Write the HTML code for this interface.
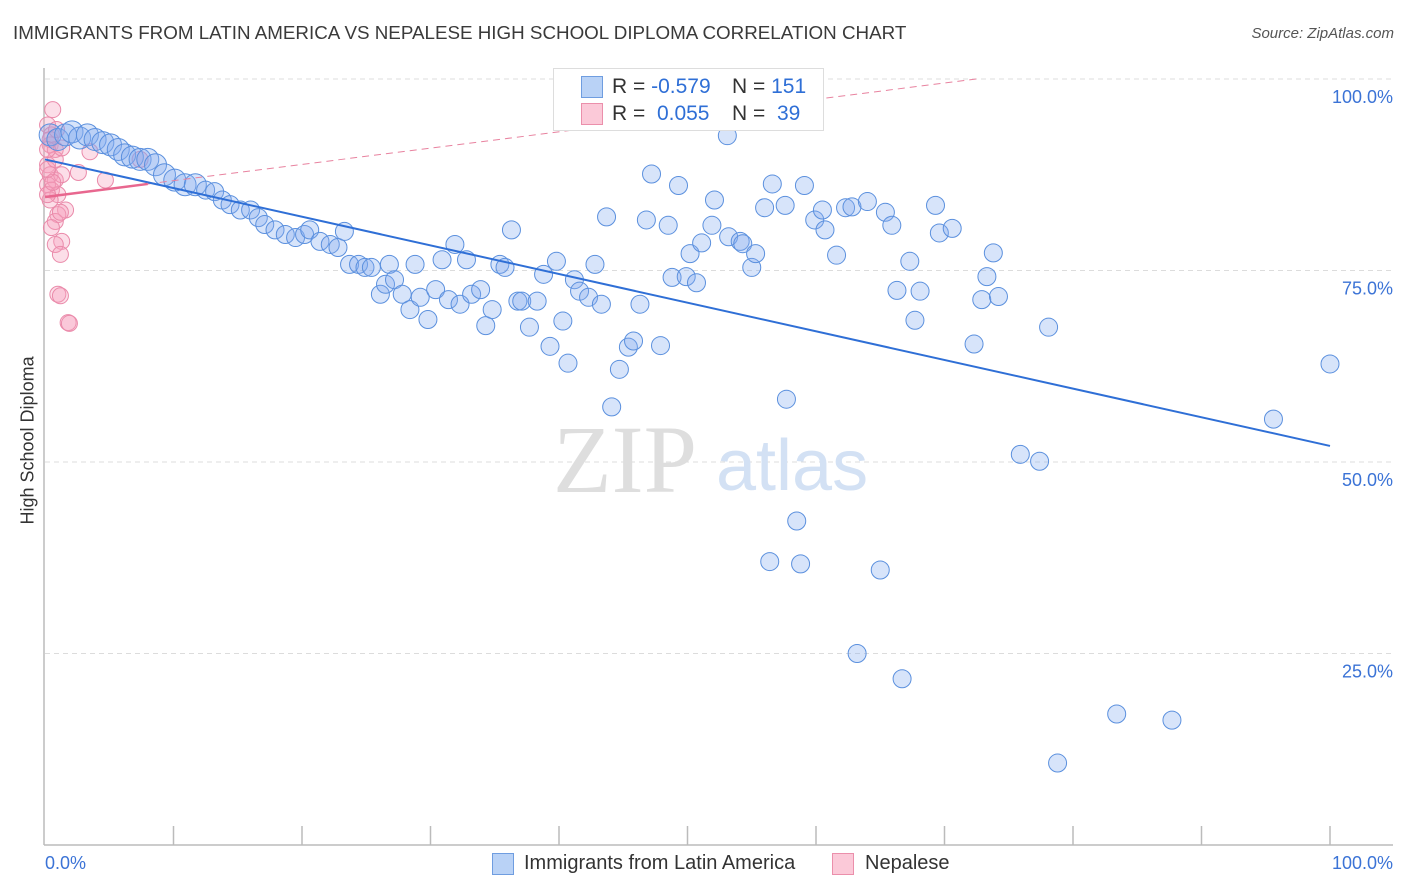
<!DOCTYPE html>
<html><head><meta charset="utf-8">
<style>
body{margin:0;background:#fff;font-family:"Liberation Sans",sans-serif;}
#wrap{position:relative;width:1406px;height:892px;overflow:hidden;}
.t{position:absolute;white-space:nowrap;}
</style></head>
<body>
<div id="wrap">
<div class="t" style="left:13px;top:22px;font-size:18.8px;color:#3a3a3a;">IMMIGRANTS FROM LATIN AMERICA VS NEPALESE HIGH SCHOOL DIPLOMA CORRELATION CHART</div>
<div class="t" style="right:12px;top:25px;font-size:15px;color:#555;font-style:italic;">Source: ZipAtlas.com</div>
<div class="t" style="left:-42px;top:444px;font-size:18px;color:#333;transform:rotate(-90deg);width:140px;text-align:center;">High School Diploma</div>
<svg id="plot" width="1406" height="892" style="position:absolute;left:0;top:0"></svg>
</div>
<script>
const blueX=[0.4,1.0,1.6,2.1,2.7,3.3,3.9,4.5,5.1,5.7,6.2,6.8,7.4,8.0,8.6,9.3,10.1,10.9,11.7,12.5,13.2,13.8,14.4,15.2,16.0,16.6,17.1,17.9,18.7,19.5,20.2,20.6,21.4,22.2,22.8,23.3,23.7,24.4,24.9,25.4,26.1,26.5,26.8,27.2,27.8,28.4,28.8,29.2,29.8,30.4,30.9,31.4,31.9,32.3,32.8,33.2,33.9,34.3,34.8,35.4,35.8,36.3,36.8,37.1,37.7,38.3,38.8,39.3,39.8,40.3,40.7,41.2,41.6,42.3,42.8,43.3,43.7,44.1,44.7,45.4,45.8,46.3,46.8,47.2,47.9,48.5,48.8,49.3,49.9,50.2,50.7,51.1,51.9,52.1,53.1,53.2,54.1,54.3,55.0,55.3,56.0,56.6,57.6,57.7,58.5,58.8,56.4,59.1,59.9,60.5,60.7,61.6,62.3,62.8,63.2,64.0,65.0,65.4,65.9,66.3,66.7,67.3,67.7,68.1,69.3,69.6,70.6,72.3,72.9,73.3,73.8,74.2,75.9,77.4,78.1,78.8,83.4,87.7,95.6,100];
const blueY=[92.7,92.1,92.7,93.1,92.3,92.7,92.1,91.7,91.4,90.8,90.1,89.8,89.5,89.5,88.8,87.5,86.8,86.2,86.2,85.5,85.3,84.2,83.6,82.9,82.9,81.9,81.0,80.3,79.7,79.3,79.7,80.3,78.8,78.4,78.0,80.1,75.8,75.8,75.4,75.4,71.9,73.2,75.8,73.8,71.9,69.9,75.8,71.5,68.6,72.5,76.4,71.2,78.4,70.6,76.4,71.9,72.5,67.8,69.9,75.8,75.4,80.3,71.0,71.0,67.6,71.0,74.5,65.1,76.2,68.4,62.9,73.8,72.3,71.5,75.8,70.6,82.0,57.2,62.1,65.0,65.8,70.6,81.6,87.6,65.2,80.9,74.1,86.1,74.2,77.2,73.4,78.6,80.9,84.2,92.6,79.4,78.8,78.5,75.4,77.2,83.2,86.3,83.5,58.2,42.3,36.7,37.0,86.1,81.6,82.9,80.3,77.0,83.2,83.3,25.0,84.0,35.9,82.6,80.9,72.4,21.7,76.2,68.5,72.3,83.5,79.9,80.5,65.4,71.2,74.2,77.3,71.6,51.0,50.1,67.6,10.7,17.1,16.3,55.6,62.8];
const pinkX=[0.6,0.2,0.5,0.4,0.8,3.5,7.4,0.2,0.4,0.8,1.3,2.6,4.7,0.2,0.5,1.0,0.4,1.6,1.0,0.8,0.5,1.3,0.8,1.2,1.0,1.2,1.8,1.9,0.4,0.2,0.6,0.2,0.8,1.2,0.2,0.9,1.3];
const pinkY=[96.0,94.0,92.7,91.4,90.8,90.5,89.5,88.8,87.5,86.8,87.5,87.8,86.8,86.2,85.5,84.9,84.2,82.9,82.3,81.4,80.6,78.8,78.4,77.1,71.9,71.7,68.2,68.1,92.1,84.9,86.5,88.2,89.5,82.6,90.8,93.4,91.0];
const blueTrendY=[89.5,52.1];
const pinkTrendY=[84.6,86.3];
const pinkTrendX=[0,8];
const yTicks=[100,75,50,25];
const yTickLabels=["100.0%","75.0%","50.0%","25.0%"];

const NS="http://www.w3.org/2000/svg";
const svg=document.getElementById('plot');
const X=v=>45+v*12.85;
const Y=v=>845-v*7.66;
function mk(tag,attrs){const e=document.createElementNS(NS,tag);for(const k in attrs)e.setAttribute(k,attrs[k]);svg.appendChild(e);return e;}

yTicks.forEach((t,i)=>{
  const g=mk('line',{x1:45,x2:1393,y1:Y(t),y2:Y(t),stroke:'#dcdcdc','stroke-dasharray':'5,4','stroke-width':1});
  
  
  const tx=mk('text',{x:1393,y:Y(t)+24,'text-anchor':'end','font-size':18,fill:'#3b73d6','font-family':'Liberation Sans, sans-serif'});
  tx.textContent=yTickLabels[i];
  
  
});
const ax=mk('line',{x1:44,x2:44,y1:68,y2:845,stroke:'#bbb','stroke-width':1.5});


const bx=mk('line',{x1:44,x2:1393,y1:845,y2:845,stroke:'#bbb','stroke-width':1.5});


for(let i=1;i<=10;i++){
  const tk=mk('line',{x1:X(i*10),x2:X(i*10),y1:826,y2:845,stroke:'#bbb','stroke-width':1.5});
  
  
}
const wm=mk('text',{x:553,y:492,'font-size':96,fill:'#dedede','font-family':'Liberation Serif, serif'});
wm.textContent='ZIP';


const wm2=mk('text',{x:716,y:490,'font-size':72,fill:'#d3e1f4','font-family':'Liberation Sans, sans-serif'});
wm2.textContent='atlas';



pinkX.forEach((x,i)=>{
  const c=mk('circle',{cx:X(x),cy:Y(pinkY[i]),r:8,fill:'rgba(246,160,188,0.35)',stroke:'#ea8aaa','stroke-width':1});
  
  
});
blueX.forEach((x,i)=>{
  const r=x<12?11:9;
  const c=mk('circle',{cx:X(x),cy:Y(blueY[i]),r:r,fill:'rgba(130,172,238,0.32)',stroke:'#5b90de','stroke-width':1});
  
  
});
const pd=mk('line',{x1:X(pinkTrendX[1]),y1:Y(pinkTrendY[1]),x2:X(pinkTrendX[1]+(100-pinkTrendY[1])/((pinkTrendY[1]-pinkTrendY[0])/(pinkTrendX[1]-pinkTrendX[0]))),y2:Y(100),stroke:'#e8829f','stroke-width':1,'stroke-dasharray':'7,5'});


const bl=mk('line',{x1:X(0),y1:Y(blueTrendY[0]),x2:X(100),y2:Y(blueTrendY[1]),stroke:'#2f6fd6','stroke-width':2});


const pl=mk('line',{x1:X(pinkTrendX[0]),y1:Y(pinkTrendY[0]),x2:X(pinkTrendX[1]),y2:Y(pinkTrendY[1]),stroke:'#e8678f','stroke-width':2.5});


</script>

<div style="position:absolute;left:553px;top:68px;width:269px;height:61px;border:1px solid #ddd;background:#fff;font-size:21px;">
  <div style="position:absolute;left:27px;top:7px;width:20px;height:20px;background:#b9d2f6;border:1px solid #6f9de0;"></div>
  <div class="t" style="left:58px;top:6px;color:#333">R = <span style="color:#2f6fd6">-0.579</span></div>
  <div class="t" style="left:178px;top:6px;color:#333">N = <span style="color:#2f6fd6">151</span></div>
  <div style="position:absolute;left:27px;top:34px;width:20px;height:20px;background:#fbc9d8;border:1px solid #eb8fab;"></div>
  <div class="t" style="left:58px;top:33px;color:#333">R = &nbsp;<span style="color:#2f6fd6">0.055</span></div>
  <div class="t" style="left:178px;top:33px;color:#333">N = &nbsp;<span style="color:#2f6fd6">39</span></div>
</div>

<div class="t" style="left:45px;top:853px;font-size:18px;color:#3b73d6;">0.0%</div>
<div class="t" style="right:13px;top:853px;font-size:18px;color:#3b73d6;">100.0%</div>
<div style="position:absolute;left:492px;top:853px;">
  <div style="position:absolute;left:0;top:0;width:20px;height:20px;background:#b9d2f6;border:1px solid #6f9de0;"></div>
  <div class="t" style="left:32px;top:-1px;font-size:20px;color:#333;">Immigrants from Latin America</div>
</div>
<div style="position:absolute;left:832px;top:853px;">
  <div style="position:absolute;left:0;top:0;width:20px;height:20px;background:#fbc9d8;border:1px solid #eb8fab;"></div>
  <div class="t" style="left:33px;top:-1px;font-size:20px;color:#333;">Nepalese</div>
</div>
</body></html>
